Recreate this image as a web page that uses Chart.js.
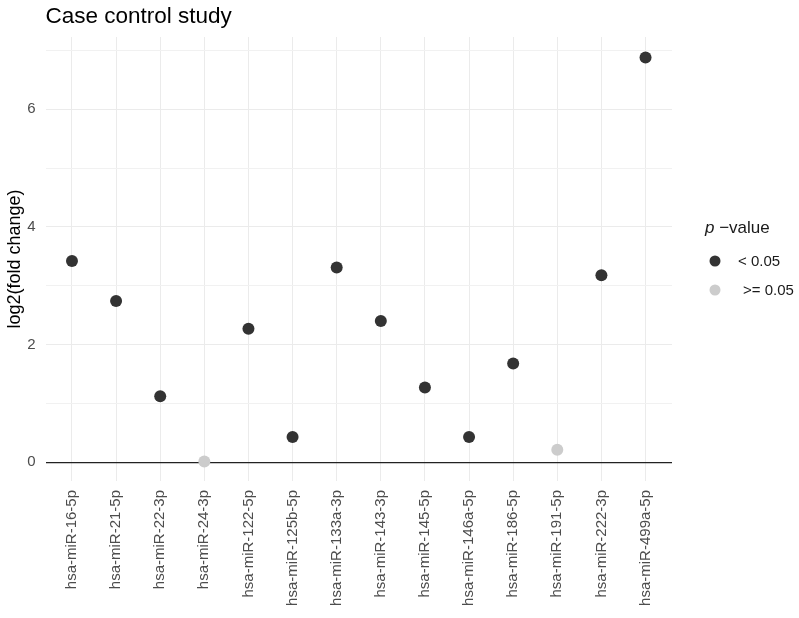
<!DOCTYPE html>
<html>
<head>
<meta charset="utf-8">
<script src="https://cdn.jsdelivr.net/npm/chart.js@4"></script>
<style>
  body { margin: 0; background: #fff; }
  #wrap { width: 799px; height: 618px; position: relative; }
</style>
</head>
<body>
<div id="wrap"><canvas id="fcChart"></canvas></div>
<script>
const categories = ['hsa-miR-16-5p', 'hsa-miR-21-5p', 'hsa-miR-22-3p', 'hsa-miR-24-3p',
    'hsa-miR-122-5p', 'hsa-miR-125b-5p', 'hsa-miR-133a-3p', 'hsa-miR-143-3p',
    'hsa-miR-145-5p', 'hsa-miR-146a-5p', 'hsa-miR-186-5p', 'hsa-miR-191-5p',
    'hsa-miR-222-3p', 'hsa-miR-499a-5p'];
const log2fc = [3.42, 2.74, 1.12, 0.01, 2.27, 0.43, 3.31, 2.40, 1.27, 0.43, 1.68, 0.21, 3.18, 6.88];
const significant = [true, true, true, false, true, true, true, true, true, true, true, false, true, true];
const groupLabels = ['< 0.05', '>= 0.05'];
const yTicks = [0, 2, 4, 6];

const FONT = '"Liberation Sans", Arial, sans-serif';
Chart.defaults.font.family = FONT;

function pointsFor(flag) {
    return log2fc.map((v, i) => ({ x: i, y: v })).filter(p => significant[p.x] === flag);
}

// ggplot-ish legend on the right
const legendPlugin = {
    id: 'pLegend',
    afterDraw(chart) {
        const ctx = chart.ctx;
        ctx.save();
        ctx.fillStyle = '#1a1a1a';
        ctx.textBaseline = 'alphabetic';
        ctx.font = 'italic 17px ' + FONT;
        ctx.fillText('p', 705, 233);
        const pw = ctx.measureText('p').width;
        ctx.font = '17px ' + FONT;
        ctx.fillText(' \u2212value', 705 + pw, 233);

        const ys = [261, 290];
        const xs = [738, 743];
        chart.data.datasets.forEach((ds, i) => {
            ctx.beginPath();
            ctx.arc(715, ys[i], 5.5, 0, Math.PI * 2);
            ctx.fillStyle = ds.backgroundColor;
            ctx.fill();
            ctx.fillStyle = '#1a1a1a';
            ctx.font = '15px ' + FONT;
            ctx.textBaseline = 'middle';
            ctx.fillText(groupLabels[i], xs[i], ys[i] + 1);
        });
        ctx.restore();
    }
};

const ctx = document.getElementById('fcChart').getContext('2d');

new Chart(ctx, {
    type: 'scatter',
    data: {
        datasets: [{
            label: groupLabels[0],
            data: pointsFor(true),
            backgroundColor: '#333333',
            borderWidth: 0,
            pointRadius: 6,
            pointHoverRadius: 6
        },
        {
            label: groupLabels[1],
            data: pointsFor(false),
            backgroundColor: '#CCCCCC',
            borderWidth: 0,
            pointRadius: 6,
            pointHoverRadius: 6
        }]
    },
    options: {
        responsive: true,
        maintainAspectRatio: false,
        animation: false,
        events: [],
        layout: { padding: { left: 0, right: 127, top: 0, bottom: 0 } },
        scales: {
            x: {
                type: 'linear',
                min: -0.6,
                max: categories.length - 0.4,
                border: { display: false },
                grid: { color: '#EBEBEB', drawTicks: false },
                afterFit: (s) => { s.height = 137; },
                ticks: {
                    stepSize: 1,
                    includeBounds: false,
                    autoSkip: false,
                    minRotation: 90,
                    maxRotation: 90,
                    padding: 9,
                    color: '#4D4D4D',
                    font: { size: 15 },
                    callback: (v) => categories[v] ?? ''
                }
            },
            y: {
                min: -0.32,
                max: 7.23,
                border: { display: false },
                afterFit: (s) => { s.width = 45.5; },
                grid: {
                    drawTicks: false,
                    color: (c) => c.tick.value === 0 ? '#222222' : (c.tick.value % 2 ? '#F1F1F1' : '#EBEBEB'),
                    lineWidth: (c) => c.tick.value === 0 ? 1.3 : 1
                },
                ticks: {
                    stepSize: 1,
                    includeBounds: false,
                    padding: 10,
                    color: '#4D4D4D',
                    font: { size: 15 },
                    callback: (v) => yTicks.includes(v) ? v : ''
                },
                title: {
                    display: true,
                    text: 'log2(fold change)',
                    color: '#000',
                    font: { size: 18 },
                    padding: { top: 4, bottom: 0 }
                }
            }
        },
        plugins: {
            legend: { display: false },
            tooltip: { enabled: false },
            title: {
                display: true,
                text: 'Case control study',
                align: 'start',
                fullSize: false,
                color: '#000',
                font: { size: 22.5, weight: 'normal' },
                padding: { top: 3, bottom: 7 }
            }
        }
    },
    plugins: [legendPlugin]
});
</script>
</body>
</html>
